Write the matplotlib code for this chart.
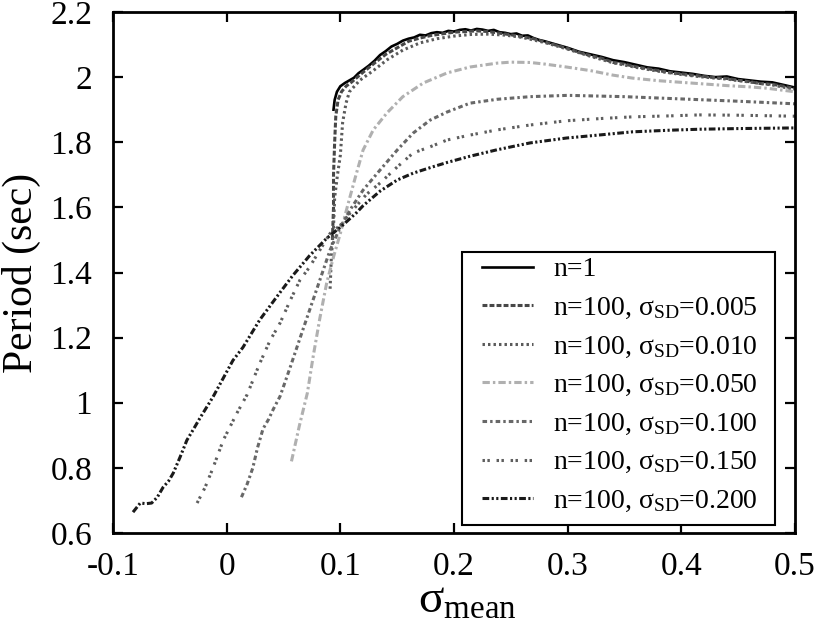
import matplotlib
matplotlib.use("Agg")
import matplotlib.pyplot as plt
from matplotlib.patches import Rectangle

plt.rcParams['font.family'] = ['Liberation Serif', 'DejaVu Serif']
plt.rcParams['mathtext.fontset'] = 'custom'
plt.rcParams['mathtext.rm'] = 'Liberation Serif'
plt.rcParams['mathtext.it'] = 'Liberation Serif:italic'
plt.rcParams['mathtext.bf'] = 'Liberation Serif:bold'

# ---- data ----
x_n1 = [0.094, 0.095, 0.097, 0.100, 0.104, 0.108, 0.112, 0.116, 0.120, 0.125, 0.130, 0.135,
        0.140, 0.145, 0.150, 0.155, 0.160, 0.165, 0.170, 0.175, 0.180, 0.185, 0.190, 0.195,
        0.200, 0.205, 0.210, 0.215, 0.220, 0.225, 0.230, 0.235, 0.240, 0.245, 0.250, 0.255,
        0.260, 0.265, 0.270, 0.275, 0.280, 0.290, 0.300, 0.310, 0.320, 0.330, 0.340, 0.350,
        0.360, 0.370, 0.380, 0.390, 0.400, 0.410, 0.420, 0.430, 0.440, 0.450, 0.460, 0.470,
        0.480, 0.490, 0.500]
y_n1 = [1.900, 1.930, 1.955, 1.972, 1.982, 1.990, 1.998, 2.012, 2.022, 2.035, 2.050, 2.068,
        2.080, 2.094, 2.102, 2.112, 2.118, 2.122, 2.130, 2.128, 2.135, 2.138, 2.136, 2.142,
        2.140, 2.145, 2.147, 2.143, 2.148, 2.146, 2.142, 2.145, 2.138, 2.136, 2.132, 2.134,
        2.127, 2.128, 2.120, 2.114, 2.110, 2.100, 2.090, 2.078, 2.070, 2.062, 2.052, 2.046,
        2.038, 2.030, 2.026, 2.018, 2.014, 2.010, 2.004, 2.000, 2.002, 1.994, 1.990, 1.986,
        1.984, 1.976, 1.968]

x_005 = [0.093, 0.094, 0.094, 0.095, 0.096, 0.098, 0.101, 0.105, 0.110, 0.115, 0.120, 0.130,
         0.140, 0.150, 0.160, 0.170, 0.180, 0.190, 0.200, 0.210, 0.220, 0.230, 0.240, 0.250,
         0.260, 0.270, 0.280, 0.290, 0.300, 0.310, 0.320, 0.330, 0.340, 0.350, 0.360, 0.370,
         0.380, 0.390, 0.400, 0.410, 0.420, 0.430, 0.440, 0.450, 0.460, 0.470, 0.480, 0.490, 0.500]
y_005 = [1.500, 1.600, 1.700, 1.800, 1.880, 1.930, 1.955, 1.972, 1.985, 2.000, 2.015, 2.043,
         2.070, 2.090, 2.110, 2.120, 2.128, 2.133, 2.138, 2.140, 2.142, 2.140, 2.135, 2.130,
         2.124, 2.118, 2.108, 2.098, 2.088, 2.076, 2.066, 2.058, 2.045, 2.040, 2.032, 2.026,
         2.020, 2.014, 2.010, 2.006, 2.002, 1.998, 1.996, 1.990, 1.986, 1.980, 1.978, 1.972, 1.965]

x_010 = [0.091, 0.092, 0.094, 0.095, 0.0975, 0.100, 0.102, 0.105, 0.108, 0.117, 0.129, 0.141,
         0.155, 0.170, 0.185, 0.200, 0.215, 0.230, 0.245, 0.260, 0.280, 0.300, 0.320, 0.340,
         0.360, 0.380, 0.400, 0.420, 0.440, 0.460, 0.480, 0.500]
y_010 = [1.350, 1.440, 1.540, 1.630, 1.700, 1.760, 1.860, 1.920, 1.955, 1.990, 2.020, 2.053,
         2.083, 2.105, 2.118, 2.126, 2.131, 2.132, 2.129, 2.122, 2.106, 2.086, 2.064, 2.044,
         2.030, 2.018, 2.008, 2.000, 1.994, 1.985, 1.976, 1.962]

x_050 = [0.057, 0.064, 0.071, 0.076, 0.082, 0.088, 0.094, 0.100, 0.106, 0.113, 0.120, 0.129,
         0.141, 0.155, 0.173, 0.194, 0.214, 0.238, 0.250, 0.267, 0.280, 0.299, 0.320, 0.340,
         0.357, 0.380, 0.400, 0.416, 0.440, 0.460, 0.475, 0.500]
y_050 = [0.820, 0.930, 1.030, 1.140, 1.260, 1.368, 1.448, 1.520, 1.600, 1.690, 1.776, 1.838,
         1.890, 1.940, 1.982, 2.013, 2.031, 2.043, 2.046, 2.045, 2.040, 2.031, 2.020, 2.006,
         1.997, 1.989, 1.984, 1.980, 1.974, 1.970, 1.966, 1.955]

x_100 = [0.013, 0.018, 0.023, 0.027, 0.032, 0.037, 0.041, 0.047, 0.056, 0.064, 0.073, 0.082,
         0.091, 0.100, 0.110, 0.120, 0.135, 0.150, 0.164, 0.179, 0.194, 0.214, 0.238, 0.267,
         0.300, 0.350, 0.400, 0.450, 0.500]
y_100 = [0.710, 0.750, 0.800, 0.860, 0.920, 0.950, 0.980, 1.020, 1.110, 1.193, 1.285, 1.377,
         1.469, 1.540, 1.600, 1.653, 1.715, 1.776, 1.828, 1.868, 1.893, 1.920, 1.932, 1.940,
         1.944, 1.940, 1.933, 1.926, 1.918]

x_150 = [-0.026, -0.019, -0.012, -0.003, 0.009, 0.018, 0.029, 0.038, 0.047, 0.056, 0.0645,
         0.073, 0.082, 0.091, 0.100, 0.108, 0.123, 0.135, 0.150, 0.164, 0.179, 0.194, 0.214,
         0.238, 0.267, 0.299, 0.330, 0.357, 0.390, 0.416, 0.450, 0.500]
y_150 = [0.692, 0.740, 0.800, 0.885, 0.968, 1.025, 1.120, 1.190, 1.245, 1.315, 1.377,
         1.417, 1.469, 1.520, 1.545, 1.580, 1.640, 1.675, 1.724, 1.767, 1.786, 1.807, 1.822,
         1.838, 1.853, 1.866, 1.873, 1.878, 1.881, 1.884, 1.883, 1.880]

x_200 = [-0.0824, -0.076, -0.071, -0.066, -0.061, -0.056, -0.051, -0.047, -0.041, -0.035,
         -0.029, -0.0235, -0.012, 0.0055, 0.0143, 0.029, 0.044, 0.058, 0.073, 0.088, 0.102,
         0.114, 0.120, 0.135, 0.150, 0.164, 0.179, 0.194, 0.214, 0.238, 0.267, 0.299, 0.330,
         0.357, 0.390, 0.416, 0.450, 0.500]
y_200 = [0.664, 0.692, 0.690, 0.692, 0.710, 0.740, 0.760, 0.784, 0.833, 0.885,
         0.920, 0.953, 1.018, 1.130, 1.170, 1.254, 1.325, 1.390, 1.452, 1.505, 1.545,
         1.583, 1.605, 1.650, 1.684, 1.705, 1.722, 1.738, 1.757, 1.777, 1.798, 1.813, 1.823,
         1.832, 1.837, 1.840, 1.842, 1.844]

labels = ['n=1',
          r'n=100, σ$_{\mathrm{SD}}$=0.005',
          r'n=100, σ$_{\mathrm{SD}}$=0.010',
          r'n=100, σ$_{\mathrm{SD}}$=0.050',
          r'n=100, σ$_{\mathrm{SD}}$=0.100',
          r'n=100, σ$_{\mathrm{SD}}$=0.150',
          r'n=100, σ$_{\mathrm{SD}}$=0.200']

xticks = [-0.1, 0, 0.1, 0.2, 0.3, 0.4, 0.5]
xticklabels = ['-0.1', '0', '0.1', '0.2', '0.3', '0.4', '0.5']
yticks = [0.6, 0.8, 1.0, 1.2, 1.4, 1.6, 1.8, 2.0, 2.2]
yticklabels = ['0.6', '0.8', '1', '1.2', '1.4', '1.6', '1.8', '2', '2.2']

# ---- figure ----
fig = plt.figure(figsize=(8.24, 6.28), dpi=100)
ax = fig.add_axes([113/824, 1 - 533/628, (795-113)/824, (533-12)/628])

series = [
    (x_n1, y_n1, dict(color='black', lw=1.9, linestyle='-')),
    (x_005, y_005, dict(color='#474747', lw=2.2, linestyle=(0, (1.6, 0.7)))),
    (x_010, y_010, dict(color='#5a5a5a', lw=2.2, linestyle=(0, (0.8, 1.0)))),
    (x_050, y_050, dict(color='#b0b0b0', lw=2.2, linestyle=(0, (2.4, 1.0, 0.8, 1.0)))),
    (x_100, y_100, dict(color='#686868', lw=2.2, linestyle=(0, (1.5, 1.0, 0.8, 1.0)))),
    (x_150, y_150, dict(color='#5e5e5e', lw=2.2, linestyle=(0, (0.8, 0.8, 0.8, 2.2)))),
    (x_200, y_200, dict(color='#1a1a1a', lw=2.2, linestyle=(0, (2.2, 0.8, 0.7, 0.8, 0.7, 0.8)))),
]
for (xs, ys, st), lab in zip(series, labels):
    ax.plot(xs, ys, label=lab, **st)

ax.set_xlim(-0.1, 0.5)
ax.set_ylim(0.6, 2.2)
ax.set_xticks(xticks)
ax.set_xticklabels(xticklabels)
ax.set_yticks(yticks)
ax.set_yticklabels(yticklabels)
ax.tick_params(direction='in', length=7, width=1.6, labelsize=24, top=True, right=True)
ax.tick_params(axis='y', pad=15)
ax.tick_params(axis='x', pad=13)
for s in ax.spines.values():
    s.set_linewidth(2.0)

ax.set_ylabel('Period (sec)', fontsize=30)
ax.yaxis.set_label_coords(-0.105, 0.5)
ax.set_xlabel(r'σ$_{\mathrm{mean}}$', fontsize=34, labelpad=0)
ax.xaxis.set_label_coords(0.52, -0.09)

# legend box (frame drawn separately to match the padding of the original)
W, H = 682.0, 521.0
ax.add_patch(Rectangle(((462-113)/W, (533-525)/H), (775-462)/W, (525-252)/H,
                       transform=ax.transAxes, fill=True, facecolor='white',
                       edgecolor='black', lw=1.5, zorder=4))
leg = ax.legend(loc='upper left', bbox_to_anchor=((482-113)/W, (533-257)/H),
                borderaxespad=0, borderpad=0, fontsize=20, frameon=False,
                handlelength=1.85, handletextpad=0.72, labelspacing=0.47)
leg.set_zorder(5)

fig.savefig('out.png', dpi=100)
